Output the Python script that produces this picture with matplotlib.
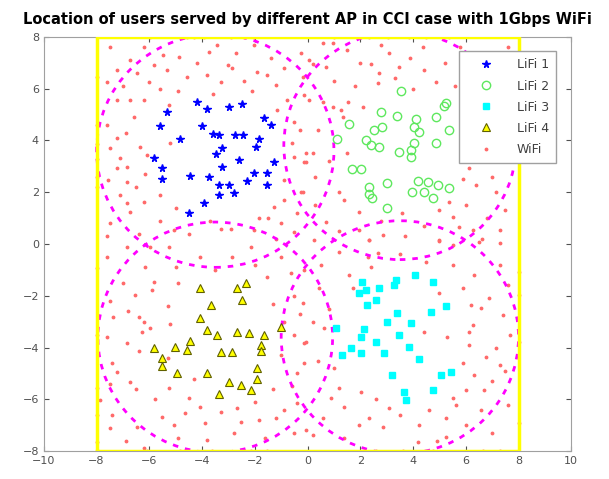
import matplotlib
matplotlib.use('Agg')
import matplotlib.pyplot as plt
from matplotlib.patches import Circle

# users served by LiFi AP 1 (blue)
ap1_x = [-4.19, -3.81, -2.98, -2.48, -5.33, -1.65, -1.40, -5.58, -4.00, -4.82, -3.37, -2.75,
         -2.45, -1.84, -3.24, -3.49, -1.97, -5.84, -5.52, -5.52, -4.44, -3.75, -3.24, -2.60,
         -2.03, -1.27, -1.53, -1.53, -2.29, -3.37, -2.98, -2.79, -3.37, -3.94, -4.51, -3.60]
ap1_y = [5.49, 5.21, 5.28, 5.41, 5.11, 4.85, 4.59, 4.57, 4.57, 4.05, 4.21, 4.23,
         4.23, 4.05, 3.69, 3.47, 3.73, 3.31, 2.92, 2.50, 2.64, 2.60, 2.98, 3.24,
         2.75, 3.15, 2.73, 2.28, 2.44, 2.28, 2.28, 1.96, 1.89, 1.57, 1.21, 4.25]

# users served by LiFi AP 2 (green)
ap2_x = [3.54, 2.78, 3.38, 4.11, 4.05, 4.87, 5.19, 1.58, 2.53, 2.84, 4.24, 2.21, 2.40,
         2.72, 1.13, 4.05, 3.92, 4.87, 3.48, 3.92, 1.70, 2.02, 2.34, 2.34, 3.03, 2.46,
         3.03, 4.17, 4.56, 4.43, 4.75, 4.94, 5.38, 3.98, 5.38, 5.25]
ap2_y = [5.92, 5.11, 4.94, 4.81, 4.53, 4.92, 5.33, 4.62, 4.40, 4.53, 4.34, 4.02, 3.82,
         3.76, 4.04, 3.89, 3.63, 3.89, 3.54, 3.37, 2.88, 2.88, 2.21, 1.95, 2.37, 1.76,
         1.38, 2.44, 2.41, 2.02, 1.76, 2.28, 2.15, 2.02, 4.40, 5.43]

# users served by LiFi AP 3 (cyan)
ap3_x = [2.08, 1.96, 2.21, 2.72, 2.59, 2.27, 3.35, 3.29, 4.09, 4.75, 5.25, 4.68, 3.41,
         3.00, 3.92, 2.15, 2.02, 1.07, 3.48, 2.59, 3.86, 1.64, 1.32, 2.02, 2.91, 4.24,
         3.22, 3.67, 3.73, 4.75, 5.06, 5.44]
ap3_y = [-1.46, -1.90, -1.78, -1.71, -2.16, -2.36, -1.39, -1.58, -1.20, -1.46, -2.38, -2.61, -2.68,
         -3.02, -3.06, -3.29, -3.58, -3.25, -3.51, -3.77, -3.96, -4.03, -4.29, -4.22, -4.22, -4.44,
         -5.06, -5.70, -6.02, -5.64, -5.06, -4.93]

# users served by LiFi AP 4 (yellow)
ap4_x = [-4.06, -2.67, -2.35, -2.48, -3.68, -4.06, -3.81, -3.43, -2.67, -2.22, -1.65, -1.02,
         -5.84, -5.01, -4.44, -4.57, -3.30, -2.86, -1.78, -1.78, -5.52, -5.52, -4.95, -3.81,
         -1.91, -1.91, -2.98, -2.54, -2.16, -3.37]
ap4_y = [-1.69, -1.71, -1.52, -2.16, -2.36, -2.85, -3.32, -3.51, -3.39, -3.42, -3.51, -3.19,
         -4.00, -3.97, -3.75, -4.09, -4.16, -4.16, -3.90, -4.13, -4.41, -4.70, -4.99, -4.99,
         -4.80, -5.21, -5.34, -5.44, -5.64, -5.80]

# users served by WiFi (red dots)
wifi_x = [-4.89, -3.75, -2.73, -3.43, -2.04, -1.40, -0.26, -6.73, -7.23, -6.47, -5.84, -5.33,
          -4.57, -3.81, -3.30, -2.86, -1.91, -1.53, -1.21, -6.03, -7.61, -0.77, -0.14, -0.52,
          -6.22, -6.73, -7.23, -5.27, -1.15, -7.23, -6.35, -6.09, -7.11, -6.85, -7.23, -6.16,
          -6.85, -7.55, -0.52, -0.14, -0.90, -0.26, -6.85, -6.22, -6.73, -7.49, -1.28, -1.85,
          -1.02, -0.52, -3.30, -2.92, -5.08, -2.04,
          0.57, 0.95, 0.06, 0.19, 0.69, -0.19, 0.06, 0.57, 1.52, 1.26, 1.33, 2.40, 3.10, 3.48,
          2.72, 2.66, 4.37, 4.43, 4.88, -0.07, 0.19, -0.07, 0.95, 6.14, 6.40, 7.16, 5.38, 1.96,
          1.20, -0.19, 6.27, 5.76, 7.28, 2.34, 5.00, 0.69, 1.96, 5.51,
          -6.85, -5.97, -5.27, -4.06, -2.86, -2.16, -1.53, -0.64, -0.14, -6.16, -6.54, -5.90,
          -5.84, -7.36, -6.41, -6.22, -5.97, -6.28, -6.85, -6.41, -7.23, -6.73, -7.42, -5.27,
          -4.51, -4.06, -4.63, -5.08, -5.52, -6.47, -7.42, -7.49, -2.67, -2.54, -1.85, -1.21,
          -0.90, -0.39, -0.52, -0.14, -0.39, -0.14, -3.81, -6.22, -7.87,
          0.25, 2.34, 2.85, 5.00, 5.51, 6.52, 7.28, 2.66, 2.28, 1.58, 1.71, 0.44, -0.19, 5.89,
          6.21, 6.59, 7.41, 7.66, 6.27, 6.14, 7.16, 6.78, 6.14, -0.07, 0.63, 1.20, 2.02, 0.88,
          6.02, 6.71, 6.33, 7.28, 0.19, 1.96, 2.34, 2.85, 3.10, 4.24, 5.26, 5.51, 5.64, 6.59,
          5.26, 4.18, -0.07,
          -8.0, -8.0, -8.0, -8.0, -8.0, -8.0, -4.57, -4.32, -3.94, -2.92, -2.42, -2.04, -5.97,
          1.01, 2.34, 3.04, 3.86, 4.50, 5.38, 8.0, 8.0, 8.0, 8.0, -6.09, -4.82, -3.62, -2.16,
          -1.53, 2.60, 3.61, 4.75, 6.65, 7.28, -8.0, -8.0, -8.0, -8.0, -8.0,
          -7.5, -6.2, -5.5, -4.2, -3.0, -2.4, -0.9, -7.0, -5.6, -4.9, -3.6, -2.1, -6.6, -7.6,
          -6.9, -5.2, -7.5, -6.5, -7.1, -5.6, -5.0, -5.6, -6.4, -7.6, -4.5, -3.7, -1.5, -0.9,
          -1.2, -0.4, -0.6, -0.3,
          1.5, 2.0, 2.8, 3.9, 5.2, 5.8, 6.4, 7.6, 1.0, 1.8, 3.3, 4.0, 5.6, 2.1, 0.4, 0.8,
          1.5, 0.3, 1.4, 2.8, 3.6, 4.4, 5.0, 6.0, 6.8, 7.5, 7.0, 5.9, 6.5, 7.5, 7.2, 6.6,
          3.7, 1.2, 0.3,
          -7.6, -5.0, -3.5, -2.0, -1.0, -0.5, -1.3, -0.9, -4.9, -5.3, -7.0, -7.5, -6.8, -5.2,
          -7.6, -5.3, -6.5, -5.8, -4.3, -3.3, -3.9, -2.0, -1.3, -0.6, -0.5, -1.6, -2.8, -4.9,
          -6.9, -7.5, -1.0, -0.3,
          0.5, 1.2, 3.5, 4.5, 5.5, 6.3, 7.3, 7.6, 0.8, 1.0, 0.4, 0.6, 1.4, 1.4, 2.6, 3.5,
          4.6, 4.9, 6.0, 7.0, 7.6, 7.0, 5.9, 5.3, 5.0, 4.4, 6.9, 7.5, 2.4, 0.2]
wifi_y = [7.23, 7.42, 7.36, 7.68, 7.68, 7.17, 7.36, 7.10, 6.72, 6.59, 6.91, 6.72,
          6.46, 6.52, 6.24, 6.78, 6.65, 6.52, 6.14, 6.27, 6.27, 5.56, 5.75, 4.72,
          5.56, 5.56, 5.56, 5.36, 5.17, 4.08, 3.76, 3.43, 3.31, 2.98, 2.92, 2.72,
          2.40, 2.47, 3.37, 3.18, 2.47, 2.02, 1.57, 1.63, 1.25, 0.80, 1.44, 0.99,
          0.80, 0.47, 0.60, 0.60, 0.54, 0.54,
          7.75, 7.75, 7.10, 6.97, 6.84, 6.46, 5.56, 5.49, 5.49, 5.17, 4.91, 6.97, 7.36, 6.84,
          6.59, 6.20, 7.62, 6.72, 6.27, 3.50, 3.50, 3.18, 5.30, 2.92, 2.28, 2.02, 1.63, 1.25,
          2.02, 2.02, 0.54, 0.67, 0.54, 0.15, 0.15, 0.86, 0.54, 1.05,
          -0.10, -0.10, -0.10, -0.49, -0.49, -0.10, -1.26, -1.13, -1.00, -0.87, -1.97, -1.77,
          -1.45, -2.80, -2.80, -3.00, -3.25, -3.38, -3.83, -4.13, -4.93, -5.31, -4.60, -5.57,
          -5.96, -6.28, -6.54, -6.99, -6.66, -7.05, -6.60, -7.11, -6.34, -6.86, -6.79, -6.73,
          -6.41, -6.15, -3.51, -3.83, -4.99, -4.60, -7.56, -7.89, -6.02,
          0.16, 0.16, 0.35, 0.12, -0.04, 0.09, 0.03, -0.36, -0.49, -1.19, -1.71, -1.71, -2.29, -1.71,
          -2.35, -2.48, -2.74, -3.51, -3.12, -3.38, -4.03, -4.35, -3.90, -3.77, -3.25, -5.57, -5.70, -5.96,
          -5.63, -5.63, -5.06, -4.67, -7.37, -6.99, -6.73, -7.05, -6.34, -6.99, -6.73, -5.96, -6.21, -6.41,
          -7.44, -7.63, -7.18,
          6.46, 4.59, 3.88, 3.30, 2.60, 2.21, 8.0, 8.0, 8.0, 8.0, 8.0, 8.0, 8.0,
          8.0, 8.0, 8.0, 8.0, 8.0, 8.0, -1.07, -1.97, -3.77, -6.92, -8.0, -8.0, -8.0, -8.0,
          -8.0, -8.0, -8.0, -8.0, -8.0, -8.0, -0.94, -3.51, -5.57, -6.60, -7.63,
          7.6, 7.6, 7.3, 7.0, 6.9, 6.3, 6.8, 6.1, 6.0, 5.9, 5.8, 5.9, 4.9, 4.6,
          4.3, 3.9, 3.7, 2.2, 1.9, 1.9, 1.4, 0.9, 0.4, 0.3, 0.4, 0.9, 1.0, 1.7,
          0.2, 1.2, 3.9, 4.4,
          7.5, 7.0, 7.7, 7.2, 7.0, 7.6, 7.3, 7.6, 6.3, 6.1, 6.4, 6.0, 6.1, 5.3, 4.4, 3.2,
          3.5, 2.6, 1.7, 0.9, 1.2, 0.7, 1.3, 1.5, 1.0, 1.3, 2.6, 2.5, 3.4, 3.3, 4.0, 0.2,
          0.3, 0.5, 1.5,
          -0.5, -0.9, -1.0, -0.8, -0.5, -2.0, -2.3, -3.0, -1.5, -2.4, -1.5, -2.2, -2.6, -3.1,
          -3.6, -4.4, -5.6, -6.0, -5.2, -6.5, -6.9, -6.1, -5.6, -5.5, -7.3, -7.5, -7.3, -7.5,
          -7.6, -5.4, -4.3, -2.7,
          -0.8, -0.3, -0.4, -0.7, -0.8, -1.2, -0.8, -1.6, -2.5, -4.8, -4.5, -6.7, -6.3, -7.5, -6.0, -6.6,
          -6.4, -7.6, -7.0, -7.3, -6.2, -5.3, -4.6, -3.6, -1.9, -3.4, -2.1, -4.9, -0.9, -3.0]

# LiFi coverage circles
cell_cx = [-3.5, 3.5, 3.5, -3.5]
cell_cy = [3.6, 3.8, -3.6, -3.6]
cell_r = [4.5, 4.4, 4.5, 4.45]

# room boundary
room_x = [-8, 8, 8, -8, -8]
room_y = [-8, -8, 8, 8, -8]

fig = plt.figure(figsize=(6.09, 4.79), dpi=100)
ax = fig.add_axes([0.072, 0.058, 0.866, 0.865])

wifi, = ax.plot(wifi_x, wifi_y, '.', color='#ff6a6a', markersize=3.5, zorder=2)

for cx, cy, r in zip(cell_cx, cell_cy, cell_r):
    ax.add_patch(Circle((cx, cy), r, fill=False, edgecolor='magenta',
                        linestyle=(0, (2, 2.5)), linewidth=2, zorder=3))

ax.plot(room_x, room_y, color='yellow', linewidth=2.5, zorder=4)

h1, = ax.plot(ap1_x, ap1_y, '*', color='blue', markersize=5.5, zorder=5)
h2, = ax.plot(ap2_x, ap2_y, 'o', color='#5ee85e', markerfacecolor='none',
              markersize=6, markeredgewidth=1, zorder=5)
h3, = ax.plot(ap3_x, ap3_y, 's', color='cyan', markersize=5, zorder=5)
h4, = ax.plot(ap4_x, ap4_y, '^', markerfacecolor='yellow', markeredgecolor='#606000',
              markersize=6, markeredgewidth=0.8, zorder=5)

ax.set_xlim(-10, 10)
ax.set_ylim(-8, 8)
ax.set_xticks(range(-10, 11, 2))
ax.set_yticks(range(-8, 9, 2))
ax.tick_params(direction='in', top=True, right=True, colors='#505050', labelsize=8)
for s in ax.spines.values():
    s.set_color('#a0a0a0')

ax.set_title('Location of users served by different AP in CCI case with 1Gbps WiFi',
             fontsize=10.5, fontweight='bold', pad=9)

leg = ax.legend([h1, h2, h3, h4, wifi], ['LiFi 1', 'LiFi 2', 'LiFi 3', 'LiFi 4', 'WiFi'],
                loc='upper right', bbox_to_anchor=(0.972, 0.966), borderaxespad=0,
                fontsize=9, fancybox=False, framealpha=1, edgecolor='#a0a0a0',
                handlelength=3, handletextpad=1.0, labelspacing=0.65, borderpad=0.6)
leg.set_zorder(10)
for t in leg.get_texts():
    t.set_color('#404040')

fig.savefig('out.png', dpi=100)
